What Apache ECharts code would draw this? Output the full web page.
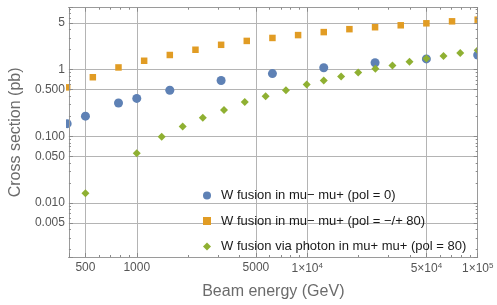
<!DOCTYPE html>
<html>
<head>
<meta charset="utf-8">
<script src="https://cdn.jsdelivr.net/npm/echarts@6/dist/echarts.min.js"></script>
<style>
  html, body { margin: 0; padding: 0; background: #fff; }
  #chart { width: 497px; height: 305px; }
</style>
</head>
<body>
<div id="chart"></div>
<script>
// ---- data ----
const seriesNames = [
  'W fusion in mu\u2212 mu+ (pol = 0)',
  'W fusion in mu\u2212 mu+ (pol = \u2212/+ 80)',
  'W fusion via photon in mu+ mu+ (pol = 80)'
];
const blueX = [390.6, 500, 781.25, 1000, 1562.5, 3125, 6250, 12500, 25000, 50000, 100000];
const blueY = [0.155, 0.201, 0.316, 0.371, 0.491, 0.689, 0.873, 1.07, 1.27, 1.45, 1.66];
const orangeX = [390.6, 552.4, 781.25, 1104.9, 1562.5, 2209.7, 3125, 4419.4, 6250, 8838.8, 12500, 17677.7, 25000, 35355, 50000, 70711, 100000];
const orangeY = [0.543, 0.77, 1.08, 1.36, 1.66, 1.99, 2.36, 2.70, 2.99, 3.30, 3.66, 4.05, 4.33, 4.63, 4.96, 5.31, 5.62];
const greenX = [500, 1000, 1400, 1860, 2440, 3250, 4300, 5700, 7500, 9930, 12500, 15800, 19900, 25100, 31600, 39800, 50000, 63000, 79000, 100000];
const greenY = [0.0140, 0.0557, 0.099, 0.140, 0.190, 0.249, 0.327, 0.401, 0.491, 0.601, 0.689, 0.789, 0.903, 1.03, 1.15, 1.31, 1.47, 1.61, 1.78, 1.95];

const xRange = [400, 100000];
const yRange = [0.00155, 8.5];
const xTickLabels = { '500': '500', '1000': '1000', '5000': '5000', '10000': '1\u00d710{s|4}', '50000': '5\u00d710{s|4}', '100000': '1\u00d710{s|5}' };
const yTickLabels = { '0.005': '0.005', '0.01': '0.010', '0.05': '0.050', '0.1': '0.100', '0.5': '0.500', '1': '1', '5': '5' };
const minorMultipliers = [2, 3, 4, 6, 7, 8, 9];

// ---- styling / layout ----
const FONT = "'Liberation Sans', Arial, sans-serif";
const frameColor = '#9a9a9a';
const gridColor = '#b4b4b4';
const tickColor = '#8a8a8a';
const colors = ['#5e81b5', '#e19c24', '#8fb032'];
const W = 497, H = 305;
const G = { left: 66, right: 19.3, top: 7.7, bottom: 43 };

function isPow10(v) {
  const l = Math.log10(v);
  return Math.abs(l - Math.round(l)) < 1e-6;
}
function keyOf(v) { return String(+v.toPrecision(6)); }

// factor: axis value = original * factor
// kind: 'grid' (split lines only), 'labeled' (labels + major ticks), 'major' (ticks), 'minor' (short ticks)
function makeAxis(dim, factor, pos, kind) {
  const range = dim === 'x' ? xRange : yRange;
  const labels = dim === 'x' ? xTickLabels : yTickLabels;
  const ax = {
    type: 'log',
    logBase: 10,
    gridIndex: 0,
    position: pos,
    min: range[0] * factor,
    max: range[1] * factor,
    z: kind === 'grid' ? 0 : 10,
    axisLine: { show: false, onZero: false },
    axisTick: { show: kind !== 'grid', inside: true, length: kind === 'minor' ? 2 : 4, lineStyle: { color: tickColor, width: 1 } },
    axisLabel: { show: false },
    splitLine: { show: kind === 'grid', lineStyle: { color: gridColor, width: 1 } },
    minorTick: { show: false },
    minorSplitLine: { show: false },
    silent: true
  };
  if (kind === 'labeled') {
    ax.axisLabel = {
      show: true,
      fontFamily: FONT,
      fontSize: 12,
      color: '#555',
      margin: dim === 'x' ? 5 : 4,
      formatter: function (v) {
        if (!isPow10(v)) return '';
        const orig = v / factor;
        const t = labels[keyOf(orig)];
        return t === undefined ? '' : t;
      },
      rich: { s: { fontSize: 8, fontFamily: FONT, color: '#555', verticalAlign: 'top', padding: [0, 0, 6, 0] } }
    };
  }
  return ax;
}

const xAxes = [];
const yAxes = [];
const xMain = makeAxis('x', 1, 'bottom', 'labeled');
xMain.axisLine = { show: true, onZero: false, lineStyle: { color: frameColor, width: 1 } };
xMain.name = 'Beam energy (GeV)';
xMain.nameLocation = 'middle';
xMain.nameGap = 27;
xMain.nameTextStyle = { fontFamily: FONT, fontSize: 16, color: '#6b6b6b' };
xAxes.push(xMain);
xAxes.push(makeAxis('x', 2, 'bottom', 'labeled'));
xAxes.push(makeAxis('x', 1, 'bottom', 'grid'));
xAxes.push(makeAxis('x', 2, 'bottom', 'grid'));
const xTop = makeAxis('x', 1, 'top', 'major');
xTop.axisLine = { show: true, onZero: false, lineStyle: { color: frameColor, width: 1 } };
xAxes.push(xTop);
xAxes.push(makeAxis('x', 2, 'top', 'major'));
minorMultipliers.forEach(m => {
  xAxes.push(makeAxis('x', 1 / m, 'bottom', 'minor'));
  xAxes.push(makeAxis('x', 1 / m, 'top', 'minor'));
});

const yMain = makeAxis('y', 1, 'left', 'labeled');
yMain.axisLine = { show: true, onZero: false, lineStyle: { color: frameColor, width: 1 } };
yMain.name = 'Cross section (pb)';
yMain.nameLocation = 'middle';
yMain.nameGap = 42;
yMain.nameTextStyle = { fontFamily: FONT, fontSize: 16, color: '#6b6b6b' };
yAxes.push(yMain);
yAxes.push(makeAxis('y', 2, 'left', 'labeled'));
yAxes.push(makeAxis('y', 1, 'left', 'grid'));
yAxes.push(makeAxis('y', 2, 'left', 'grid'));
const yRight = makeAxis('y', 1, 'right', 'major');
yRight.axisLine = { show: true, onZero: false, lineStyle: { color: frameColor, width: 1 } };
yAxes.push(yRight);
yAxes.push(makeAxis('y', 2, 'right', 'major'));
minorMultipliers.forEach(m => {
  yAxes.push(makeAxis('y', 1 / m, 'left', 'minor'));
  yAxes.push(makeAxis('y', 1 / m, 'right', 'minor'));
});

function pairs(xs, ys) { return xs.map((x, i) => [x, ys[i]]); }

const chart = echarts.init(document.getElementById('chart'), null, { renderer: 'canvas' });
chart.setOption({
  animation: false,
  backgroundColor: '#fff',
  textStyle: { fontFamily: FONT },
  grid: { left: G.left, right: G.right, top: G.top, bottom: G.bottom, containLabel: false },
  xAxis: xAxes,
  yAxis: yAxes,
  // white masks just outside the plot frame so markers on the frame edge appear cut off
  graphic: [
    { type: 'rect', z: 5, silent: true, shape: { x: 0, y: 0, width: G.left, height: H }, style: { fill: '#fff' } },
    { type: 'rect', z: 5, silent: true, shape: { x: W - G.right, y: 0, width: G.right, height: H }, style: { fill: '#fff' } }
  ],
  legend: {
    orient: 'vertical',
    left: 203,
    top: 188,
    padding: 0,
    itemGap: 10.5,
    itemWidth: 8,
    itemHeight: 8,
    selectedMode: false,
    textStyle: { fontFamily: FONT, fontSize: 13, color: '#1a1a1a', lineHeight: 15, padding: [0, 0, 0, 5] },
    data: [
      { name: seriesNames[0], icon: 'circle' },
      { name: seriesNames[1], icon: 'rect' },
      { name: seriesNames[2], icon: 'diamond' }
    ]
  },
  series: [
    { name: seriesNames[0], type: 'scatter', xAxisIndex: 0, yAxisIndex: 0, symbol: 'circle', symbolSize: 9, clip: false,
      itemStyle: { color: colors[0], opacity: 1 }, data: pairs(blueX, blueY), z: 2 },
    { name: seriesNames[1], type: 'scatter', xAxisIndex: 0, yAxisIndex: 0, symbol: 'rect', symbolSize: 6.5, clip: false,
      itemStyle: { color: colors[1], opacity: 1 }, data: pairs(orangeX, orangeY), z: 3 },
    { name: seriesNames[2], type: 'scatter', xAxisIndex: 0, yAxisIndex: 0, symbol: 'diamond', symbolSize: 8, clip: false,
      itemStyle: { color: colors[2], opacity: 1 }, data: pairs(greenX, greenY), z: 4 }
  ]
});
</script>
</body>
</html>
